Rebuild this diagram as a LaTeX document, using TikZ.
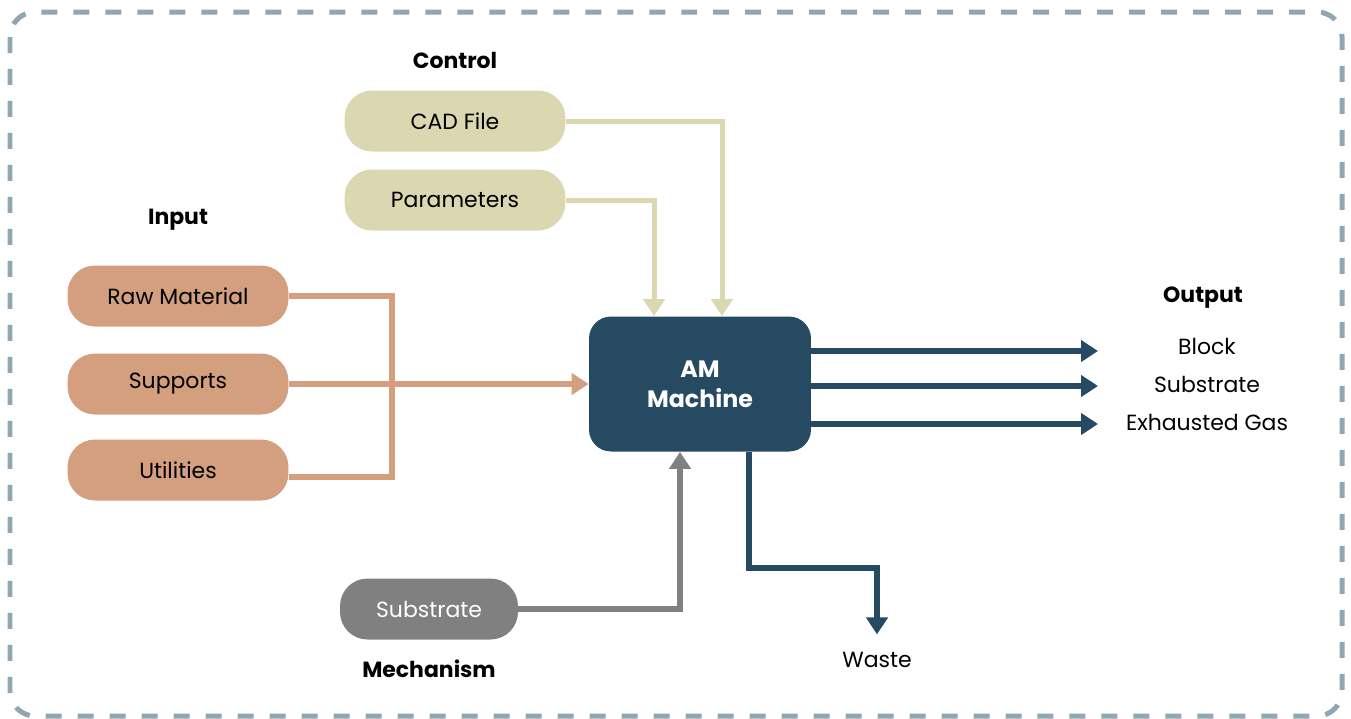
\documentclass[tikz,border=0pt]{standalone}
\usepackage{fontspec}
\setmainfont{Poppins}
\usetikzlibrary{arrows.meta}
\definecolor{framegray}{RGB}{143,166,179}
\definecolor{ctrlcol}{RGB}{219,215,176}
\definecolor{incol}{RGB}{212,159,127}
\definecolor{amcol}{RGB}{37,74,98}
\definecolor{mechcol}{RGB}{128,128,128}
\begin{document}
\begin{tikzpicture}[x=0.02cm, y=-0.02cm,
  every node/.style={font=\fontsize{12.5}{15}\selectfont, inner sep=0pt},
  box/.style={rounded corners=0.55cm, minimum width=4.42cm, minimum height=1.22cm},
  head/.style={font=\fontsize{12.5}{15}\selectfont\bfseries},
  tip/.style={-{Triangle[length=0.34cm,width=0.42cm]}}]
  \useasboundingbox (0,0) rectangle (1351,718);
  \draw [framegray, line width=0.1cm, dash pattern=on 0.32cm off 0.32cm, rounded corners=0.5cm]
    (10,12) rectangle (1342,716);

  % control
  \node [head] (ctrl) at (455,60) {Control};
  \node [box, fill=ctrlcol] (cad) at (455,121) {CAD File};
  \node [box, fill=ctrlcol] (par) at (455,200) {Parameters};

  % input
  \node [head] (inp) at (178,220) {Input};
  \node [box, fill=incol] (raw) at (178,296) {Raw Material};
  \node [box, fill=incol] (sup) at (178,384) {Supports};
  \node [box, fill=incol] (util) at (178,470) {Utilities};
  \coordinate (injoin) at (392,384);

  % machine
  \node [rounded corners=0.44cm, fill=amcol, minimum width=4.44cm, minimum height=2.7cm,
    text=white, align=center, font=\fontsize{13.5}{17}\selectfont\bfseries] (am) at (700,384) {AM\\Machine};

  % mechanism
  \node [box, fill=mechcol, text=white, minimum width=3.56cm] (mech) at (429,609) {Substrate};
  \node [head] (mechl) at (429,669) {Mechanism};

  % output
  \node [head] (outl) at (1203,298) {Output};
  \node (blk) at (1207,346) {Block};
  \node (sub) at (1207,384) {Substrate};
  \node (gas) at (1207,422) {Exhausted Gas};
  \coordinate (o1) at (1098,351);
  \coordinate (o2) at (1098,386);
  \coordinate (o3) at (1098,424);
  \node (waste) at (877,660) {Waste};
  \coordinate (wbend) at (877,568);

  \draw [incol, line width=0.12cm] (raw.east) -| (injoin) |- ([yshift=-0.14cm]util.east);
  \draw [incol, line width=0.12cm, tip] (sup.east) -- (am.west);
  \draw [ctrlcol, line width=0.1cm, tip] (cad.east) -| ([xshift=0.44cm]am.north);
  \draw [ctrlcol, line width=0.1cm, tip] (par.east) -| ([xshift=-0.92cm]am.north);
  \draw [mechcol, line width=0.12cm, tip] (mech.east) -| ([xshift=-0.4cm]am.south);
  \draw [amcol, line width=0.12cm, tip] ([xshift=0.98cm]am.south) |- (wbend) -- ([yshift=0.35cm]waste.north);
  \draw [amcol, line width=0.12cm, tip] (am.east |- o1) -- (o1);
  \draw [amcol, line width=0.12cm, tip] (am.east |- o2) -- (o2);
  \draw [amcol, line width=0.12cm, tip] (am.east |- o3) -- (o3);
\end{tikzpicture}
\end{document}
